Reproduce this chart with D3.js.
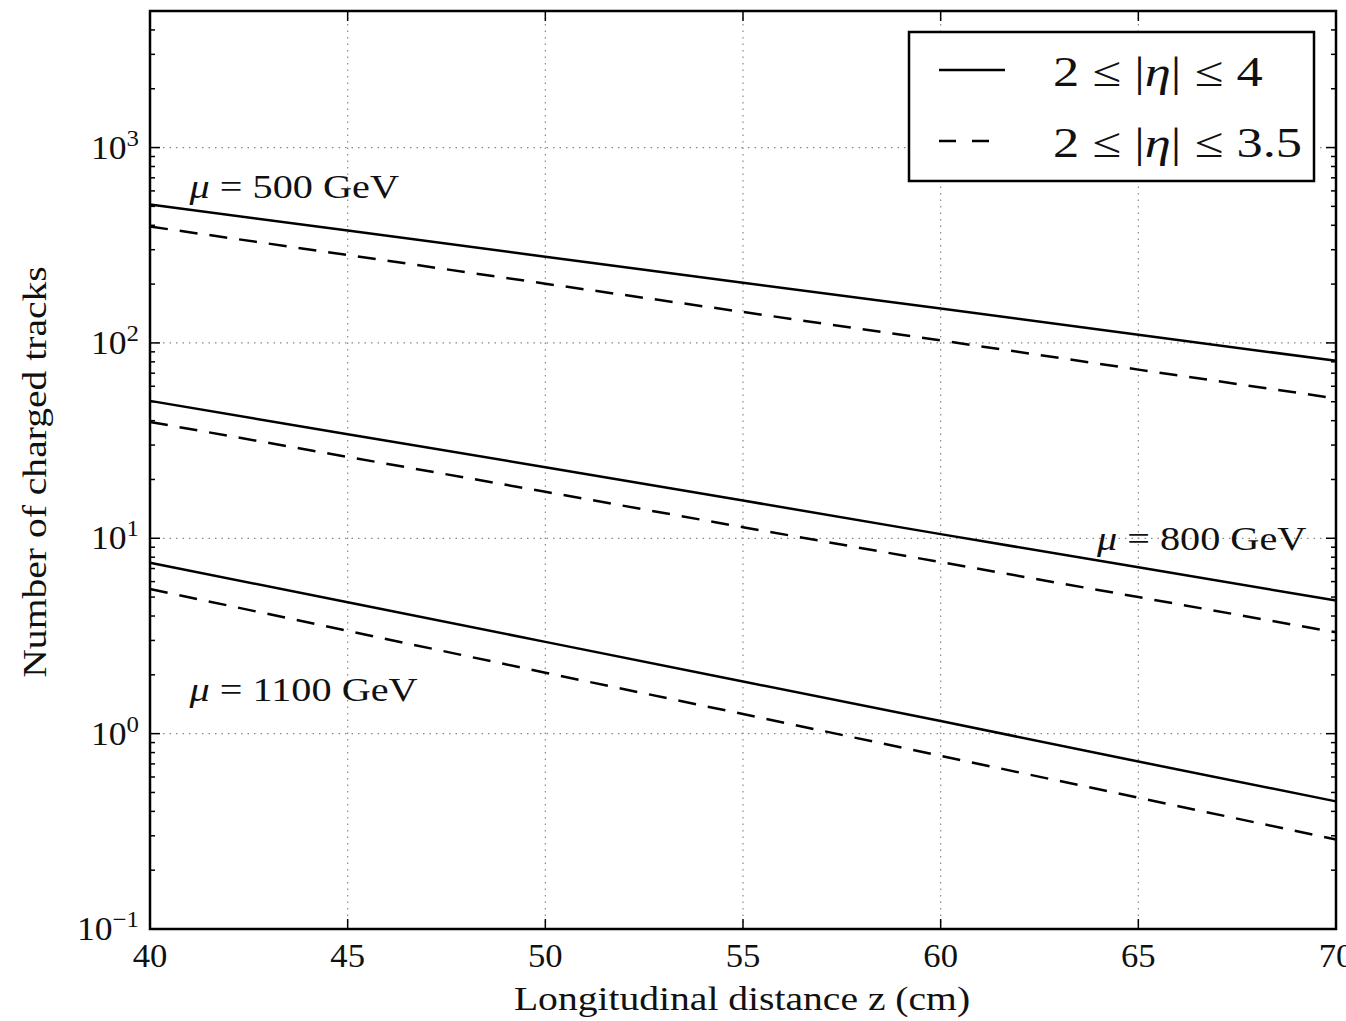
<!DOCTYPE html>
<html><head><meta charset="utf-8">
<script src="https://cdn.jsdelivr.net/npm/d3@7"></script>
<style>body{margin:0;background:#fff}svg{display:block}text{font-family:"Liberation Serif","DejaVu Serif",serif;fill:#111}</style>
</head><body><svg id="c" width="1346" height="1021"></svg>
<script>
const zValues = [40, 45, 50, 55, 60, 65, 70];
const solid500 = [511, 376, 276, 203, 150, 110, 81];
const dashed500 = [394, 282, 201, 144, 103, 73, 52];
const solid800 = [50.5, 34.1, 23.1, 15.6, 10.5, 7.1, 4.8];
const dashed800 = [39.4, 26.1, 17.3, 11.4, 7.55, 5.0, 3.3];
const solid1100 = [7.5, 4.7, 2.95, 1.85, 1.16, 0.72, 0.45];
const dashed1100 = [5.5, 3.36, 2.05, 1.26, 0.77, 0.47, 0.287];
const xTicks = [40, 45, 50, 55, 60, 65, 70];
const yTickExps = [-1, 0, 1, 2, 3];
const legendLabels = ["2 ≤ |η| ≤ 4", "2 ≤ |η| ≤ 3.5"];
const annotations = [
  {mu: "500", z: 41, y: 555, anchor: "start"},
  {mu: "800", z: 69.25, y: 8.7, anchor: "end"},
  {mu: "1100", z: 41, y: 1.475, anchor: "start"}
];

const series = [
  {vals: solid500, dash: null}, {vals: dashed500, dash: "18,12"},
  {vals: solid800, dash: null}, {vals: dashed800, dash: "18,12"},
  {vals: solid1100, dash: null}, {vals: dashed1100, dash: "18,12"}
];

const svg = d3.select("#c");
const L = 150, R = 1336, T = 11, B = 929;
const x = d3.scaleLinear().domain([40, 70]).range([L, R]);
const y = d3.scaleLog().domain([0.1, 5000]).range([B, T]);

// stretched text helper (emulates wider Computer Modern)
function stext(parent, px, py, size, sx, anchor, rot) {
  const g = parent.append("g").attr("transform", `translate(${px},${py})` + (rot ? ` rotate(${rot})` : "") + ` scale(${sx},1)`);
  return g.append("text").attr("x", 0).attr("y", 0).attr("font-size", size).attr("text-anchor", anchor || "start");
}

// grid
const grid = svg.append("g").attr("stroke", "#888").attr("stroke-width", 1.2).attr("stroke-dasharray", "1.5,5");
xTicks.slice(1, -1).forEach(t => grid.append("line").attr("x1", x(t)).attr("x2", x(t)).attr("y1", T).attr("y2", B));
yTickExps.slice(1).forEach(e => grid.append("line").attr("x1", L).attr("x2", R).attr("y1", y(Math.pow(10, e))).attr("y2", y(Math.pow(10, e))));

// ticks (inward, all sides)
const tk = svg.append("g").attr("stroke", "#000").attr("stroke-width", 1.5);
xTicks.forEach(t => {
  tk.append("line").attr("x1", x(t)).attr("x2", x(t)).attr("y1", B).attr("y2", B - 10);
  tk.append("line").attr("x1", x(t)).attr("x2", x(t)).attr("y1", T).attr("y2", T + 10);
});
const minor = [];
for (let e = -1; e <= 3; e++) for (let m = 2; m <= 9; m++) { const v = m * Math.pow(10, e); if (v <= 5000) minor.push(v); }
minor.forEach(v => {
  tk.append("line").attr("x1", L).attr("x2", L + 5).attr("y1", y(v)).attr("y2", y(v));
  tk.append("line").attr("x1", R).attr("x2", R - 5).attr("y1", y(v)).attr("y2", y(v));
});
yTickExps.forEach(e => {
  const v = Math.pow(10, e);
  tk.append("line").attr("x1", L).attr("x2", L + 10).attr("y1", y(v)).attr("y2", y(v));
  tk.append("line").attr("x1", R).attr("x2", R - 10).attr("y1", y(v)).attr("y2", y(v));
});

// lines
const line = d3.line().x((d, i) => x(zValues[i])).y(d => y(d));
series.forEach(s => {
  svg.append("path").datum(s.vals).attr("d", line).attr("fill", "none")
    .attr("stroke", "#000").attr("stroke-width", 2.5).attr("stroke-dasharray", s.dash);
});

// frame
svg.append("rect").attr("x", L).attr("y", T).attr("width", R - L).attr("height", B - T)
  .attr("fill", "none").attr("stroke", "#000").attr("stroke-width", 2.5);

// x tick labels
xTicks.forEach(t => stext(svg, x(t), 967, 33, 1.05, "middle").text(t));
// y tick labels
yTickExps.forEach(e => {
  const tx = stext(svg, 139, y(Math.pow(10, e)) + 11, 33, 1.08, "end");
  tx.append("tspan").text("10");
  tx.append("tspan").attr("dy", -13).attr("font-size", 23).text(e < 0 ? "\u2212" + Math.abs(e) : e);
});

// axis labels
stext(svg, (L + R) / 2 - 1, 1010, 33, 1.2, "middle").text("Longitudinal distance z (cm)");
stext(svg, 46, (T + B) / 2 + 2, 33, 1.2, "middle", -90).text("Number of charged tracks");

// annotations
annotations.forEach(a => {
  const t = stext(svg, x(a.z), y(a.y), 33, 1.22, a.anchor);
  t.append("tspan").attr("font-style", "italic").text("μ");
  t.append("tspan").text(" = " + a.mu + " GeV");
});

// legend
const lg = svg.append("g");
lg.append("rect").attr("x", 909).attr("y", 32).attr("width", 405).attr("height", 149)
  .attr("fill", "#fff").attr("stroke", "#000").attr("stroke-width", 2.5);
legendLabels.forEach((lab, i) => {
  const yy = 70 + i * 71;
  lg.append("line").attr("x1", 939).attr("x2", i ? 989 : 1005).attr("y1", yy).attr("y2", yy).attr("stroke", "#000")
    .attr("stroke-width", 2.5).attr("stroke-dasharray", i ? "17,16" : null);
  const t = stext(lg, 1053, yy + 16, 42, 1.25, "start");
  const parts = lab.split("η");
  t.append("tspan").text(parts[0]);
  t.append("tspan").attr("font-style", "italic").text("η");
  t.append("tspan").text(parts[1]);
});
</script></body></html>
